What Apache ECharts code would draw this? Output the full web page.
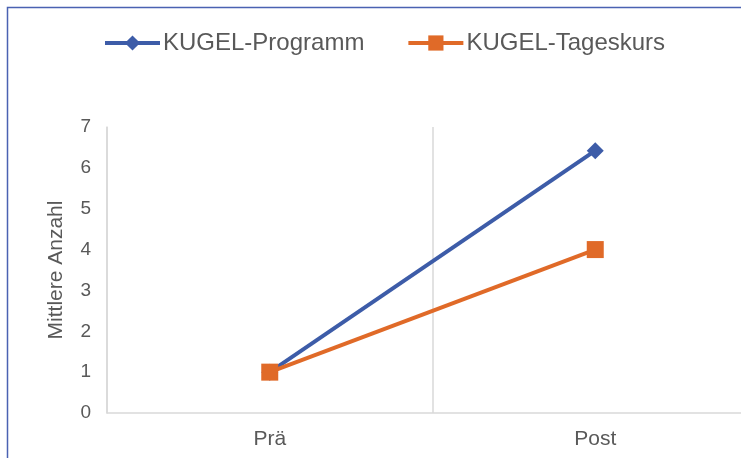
<!DOCTYPE html>
<html>
<head>
<meta charset="utf-8">
<script src="https://cdn.jsdelivr.net/npm/echarts@6/dist/echarts.min.js"></script>
<style>
  html, body { margin: 0; padding: 0; background: #fff; overflow: hidden; }
  #chart { width: 760px; height: 458px; }
</style>
</head>
<body>
<div id="chart"></div>
<script>
  // Daten
  const categories = ['Prä', 'Post'];
  const programm = [1, 6.42];
  const tageskurs = [1, 4];
  const yTicks = { min: 0, max: 7, interval: 1 };

  const chart = echarts.init(document.getElementById('chart'));
  const textColor = '#595959';
  const font = 'Liberation Sans, Arial, sans-serif';

  chart.setOption({
    animation: false,
    graphic: [{
      type: 'rect',
      shape: { x: 7.5, y: 7.5, width: 800, height: 600 },
      style: { fill: 'none', stroke: '#4a62b2', lineWidth: 1.5 },
      silent: true
    }],
    legend: {
      top: 26,
      left: 98,
      itemWidth: 55,
      itemHeight: 19,
      itemGap: 42,
      lineStyle: { width: 4 },
      textStyle: { color: textColor, fontSize: 24, fontFamily: font, padding: [0, 0, 0, -2] },
      data: ['KUGEL-Programm', 'KUGEL-Tageskurs']
    },
    grid: { left: 107, top: 127, right: 2, bottom: 45 },
    xAxis: {
      type: 'category',
      data: categories,
      boundaryGap: true,
      axisLine: { lineStyle: { color: '#d9d9d9', width: 1.5 } },
      axisTick: { show: false },
      splitLine: { show: true, lineStyle: { color: '#d9d9d9', width: 1.5 } },
      axisLabel: { color: textColor, fontSize: 21, fontFamily: font, margin: 16 }
    },
    yAxis: {
      type: 'value',
      min: yTicks.min,
      max: yTicks.max,
      interval: yTicks.interval,
      name: 'Mittlere Anzahl',
      nameLocation: 'middle',
      nameGap: 40,
      nameTextStyle: { color: textColor, fontSize: 21, fontFamily: font },
      axisLine: { show: true, lineStyle: { color: '#d9d9d9', width: 1.5 } },
      axisTick: { show: false },
      splitLine: { show: false },
      axisLabel: { color: textColor, fontSize: 19, fontFamily: font, margin: 16 }
    },
    series: [
      {
        name: 'KUGEL-Programm',
        type: 'line',
        data: programm,
        symbol: 'diamond',
        symbolSize: 17,
        color: '#3d5ca8',
        lineStyle: { width: 4, color: '#3d5ca8' },
        itemStyle: { color: '#3d5ca8' }
      },
      {
        name: 'KUGEL-Tageskurs',
        type: 'line',
        data: tageskurs,
        symbol: 'rect',
        symbolSize: 17,
        color: '#e06a28',
        lineStyle: { width: 4, color: '#e06a28' },
        itemStyle: { color: '#e06a28' }
      }
    ]
  });
</script>
</body>
</html>
